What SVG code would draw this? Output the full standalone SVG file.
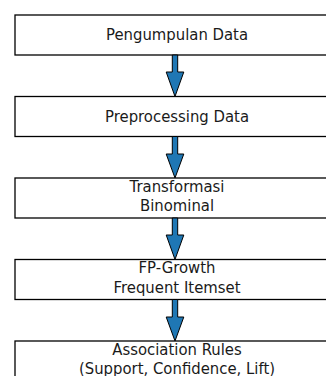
<svg xmlns="http://www.w3.org/2000/svg" width="326" height="376" viewBox="0 0 326 376">
<style>
.box{fill:#ffffff;stroke:#000000;stroke-width:1.3}
.lbl{font-family:"DejaVu Sans",sans-serif;font-size:16px;fill:#1a1a1a;text-anchor:middle}
.arr{fill:#1f77b4;stroke:#000000;stroke-width:1;stroke-linejoin:miter}
</style>
<rect width="326" height="376" fill="#ffffff"/>
<g id="node1"><rect class="box" x="15" y="15" width="324" height="40"/>
<text class="lbl" transform="translate(177,40) scale(0.93,1)">Pengumpulan Data</text></g>
<g id="node2"><rect class="box" x="15" y="96.5" width="324" height="40"/>
<text class="lbl" transform="translate(177,121.5) scale(0.93,1)">Preprocessing Data</text></g>
<g id="node3"><rect class="box" x="15" y="178" width="324" height="40"/>
<text class="lbl" transform="translate(177,191.7) scale(0.93,1)">Transformasi</text>
<text class="lbl" transform="translate(177,211) scale(0.93,1)">Binominal</text></g>
<g id="node4"><rect class="box" x="15" y="259.5" width="324" height="40"/>
<text class="lbl" transform="translate(177,273.3) scale(0.93,1)">FP-Growth</text>
<text class="lbl" transform="translate(177,293) scale(0.93,1)">Frequent Itemset</text></g>
<g id="node5"><rect class="box" x="15" y="341" width="324" height="40"/>
<text class="lbl" transform="translate(177,354.5) scale(0.93,1)">Association Rules</text>
<text class="lbl" transform="translate(177,374) scale(0.93,1)">(Support, Confidence, Lift)</text></g>
<g id="connectors">
<polygon class="arr" points="172.3,55 177.7,55 177.7,72 183.8,72 175,96.5 166.2,72 172.3,72"/>
<polygon class="arr" points="172.3,136.5 177.7,136.5 177.7,154 183.8,154 175,178 166.2,154 172.3,154"/>
<polygon class="arr" points="172.3,218 177.7,218 177.7,235 183.8,235 175,259.5 166.2,235 172.3,235"/>
<polygon class="arr" points="172.3,299.5 177.7,299.5 177.7,317 183.8,317 175,341 166.2,317 172.3,317"/>
</g>
</svg>
